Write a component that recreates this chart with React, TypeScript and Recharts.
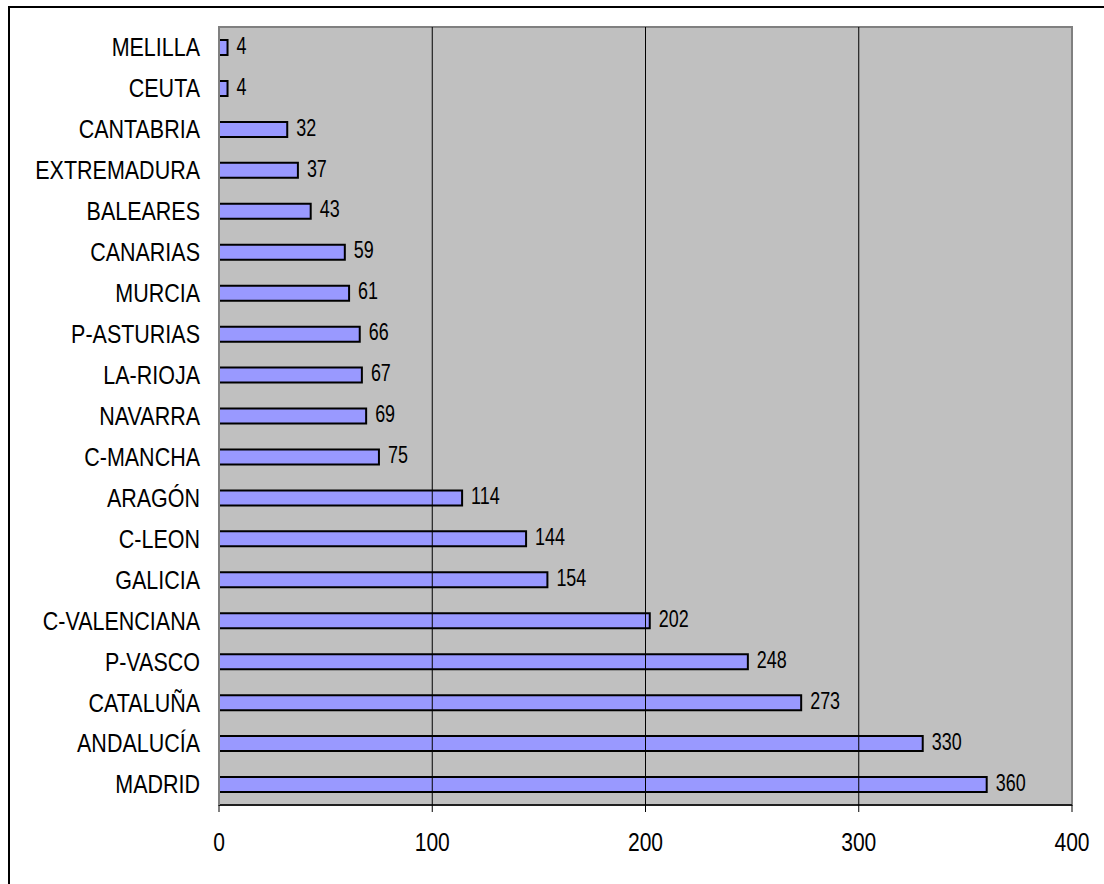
import React from 'react';
import { BarChart, Bar, XAxis, YAxis, CartesianGrid, ReferenceLine, ReferenceArea, LabelList } from 'recharts';

const regions = ['MELILLA', 'CEUTA', 'CANTABRIA', 'EXTREMADURA', 'BALEARES', 'CANARIAS', 'MURCIA', 'P-ASTURIAS', 'LA-RIOJA', 'NAVARRA', 'C-MANCHA', 'ARAGÓN', 'C-LEON', 'GALICIA', 'C-VALENCIANA', 'P-VASCO', 'CATALUÑA', 'ANDALUCÍA', 'MADRID'];
const values = [4, 4, 32, 37, 43, 59, 61, 66, 67, 69, 75, 114, 144, 154, 202, 248, 273, 330, 360];
const xTicks = [0, 100, 200, 300, 400];
const gridLines = [100, 200, 300];

const data = regions.map((name, i) => ({ name, value: values[i] }));

const FONT = "'Liberation Sans', Arial, sans-serif";

const YTick = (props: any) => {
  const { x, y, payload } = props;
  return (
    <g transform={`translate(${x},${y})`}>
      <text transform="scale(0.86,1)" textAnchor="end" dy="0.355em" fill="#000" fontSize={25} fontFamily={FONT}>
        {payload.value}
      </text>
    </g>
  );
};

const XTick = (props: any) => {
  const { x, y, payload } = props;
  return (
    <g transform={`translate(${x},${y})`}>
      <text transform="scale(0.81,1)" textAnchor="middle" dy="0.71em" fill="#000" fontSize={26} fontFamily={FONT}>
        {payload.value}
      </text>
    </g>
  );
};

const ValueLabel = (props: any) => {
  const { x, y, width, height, value } = props;
  const tx = Number(x) + Number(width) + 9;
  const ty = Number(y) + Number(height) / 2 - 2;
  return (
    <g transform={`translate(${tx},${ty})`}>
      <text transform="scale(0.78,1)" textAnchor="start" dy="0.355em" fill="#000" fontSize={23} fontFamily={FONT}>
        {value}
      </text>
    </g>
  );
};

export default function App() {
  return (
    <div style={{ position: 'absolute', left: 0, top: 0, width: 1104, height: 884, overflow: 'hidden', background: '#fff' }}>
      <div style={{ position: 'absolute', left: 8, top: 6, width: 1200, height: 1000, borderTop: '2px solid #000', borderLeft: '2px solid #000' }} />
      <div style={{ position: 'absolute', left: 0, top: 0 }}>
        <BarChart
          width={1104}
          height={884}
          data={data}
          layout="vertical"
          margin={{ top: 27, right: 32, bottom: 0, left: 0 }}
          barSize={15}
        >
          <CartesianGrid horizontal={false} vertical={false} fill="#C0C0C0" />
          <XAxis
            type="number"
            domain={[0, 400]}
            ticks={xTicks}
            height={79}
            tickSize={7}
            tickMargin={21}
            axisLine={{ stroke: '#000', strokeWidth: 1.5 }}
            tickLine={{ stroke: '#000' }}
            tick={<XTick />}
            interval={0}
          />
          <YAxis
            type="category"
            dataKey="name"
            width={219}
            tickSize={19}
            tickMargin={0}
            tickLine={false}
            axisLine={{ stroke: '#808080', strokeWidth: 2 }}
            tick={<YTick />}
            interval={0}
          />
          {gridLines.map((g) => (
            <ReferenceLine key={g} x={g} stroke="#000" strokeWidth={1} />
          ))}
          <ReferenceArea x1={0} x2={400} fill="none" stroke="#808080" strokeWidth={2} ifOverflow="visible" />
          <Bar dataKey="value" fill="#9999FF" stroke="#000" strokeWidth={2} isAnimationActive={false}>
            <LabelList dataKey="value" content={<ValueLabel />} />
          </Bar>
        </BarChart>
      </div>
    </div>
  );
}
